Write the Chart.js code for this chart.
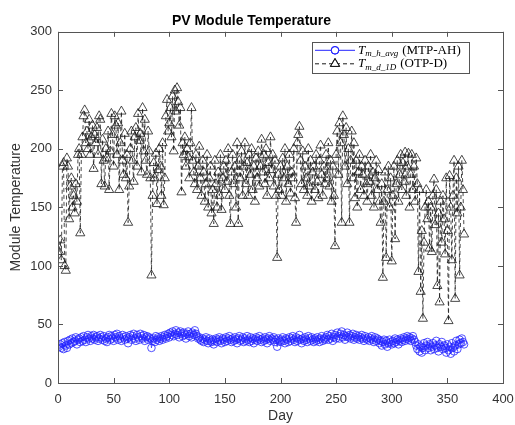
<!DOCTYPE html>
<html>
<head>
<meta charset="utf-8">
<script src="https://cdn.jsdelivr.net/npm/chart.js@4.4.1/dist/chart.umd.min.js"></script>
<style>
  html, body { margin: 0; padding: 0; background: #fff; }
  canvas { display: block; }
</style>
</head>
<body>
<canvas id="pvChart" width="515" height="425"></canvas>
<script>
// Data (one value per day)
const days = Array.from({ length: 365 }, (_, i) => i + 1);

// T_m_h_avg (MTP-AH)
const mtpAH = [
    31, 33, 30, 34, 29, 35, 32, 30, 36, 33,
    37, 34, 38, 35, 36, 39, 33, 37, 38, 35,
    39, 36, 40, 37, 35, 39, 41, 38, 36, 40,
    38, 41, 37, 39, 40, 36, 38, 41, 39, 37,
    40, 36, 38, 35, 39, 41, 37, 40, 38, 36,
    41, 39, 42, 37, 40, 38, 36, 41, 39, 37,
    40, 38, 34, 39, 41, 37, 40, 42, 38, 36,
    41, 39, 37, 42, 40, 38, 41, 36, 39, 40,
    37, 39, 38, 30, 36, 38, 35, 40, 37, 39,
    36, 38, 40, 37, 39, 41, 38, 40, 42, 39,
    43, 41, 44, 40, 42, 45, 41, 43, 39, 44,
    42, 40, 43, 41, 38, 42, 44, 40, 42, 39,
    43, 41, 45, 42, 40, 38, 39, 37, 36, 38,
    35, 37, 39, 36, 34, 38, 36, 35, 37, 33,
    36, 38, 35, 37, 39, 36, 34, 38, 37, 35,
    39, 36, 38, 40, 37, 35, 38, 36, 39, 37,
    34, 38, 40, 36, 37, 39, 35, 38, 36, 40,
    37, 35, 39, 36, 38, 34, 37, 39, 36, 38,
    40, 37, 35, 38, 36, 39, 37, 34, 38, 40,
    36, 38, 37, 39, 35, 37, 31, 38, 36, 35,
    37, 39, 36, 34, 38, 37, 35, 39, 36, 38,
    40, 37, 35, 39, 36, 38, 41, 37, 34, 38,
    36, 39, 37, 35, 40, 38, 36, 39, 37, 35,
    38, 36, 39, 37, 35, 38, 40, 36, 38, 37,
    39, 41, 37, 40, 38, 42, 36, 39, 41, 38,
    43, 40, 38, 42, 44, 39, 41, 37, 40, 43,
    39, 41, 38, 40, 42, 37, 39, 41, 38, 40,
    37, 39, 41, 38, 36, 40, 38, 37, 39, 36,
    38, 40, 37, 35, 39, 36, 38, 37, 34, 36,
    32, 35, 37, 33, 36, 31, 34, 37, 35, 33,
    36, 34, 38, 35, 37, 33, 36, 38, 35, 37,
    39, 36, 38, 40, 37, 39, 36, 38, 40, 37,
    35, 32, 29, 33, 27, 31, 26, 30, 34, 28,
    32, 35, 30, 33, 28, 31, 34, 29, 32, 36,
    30, 27, 33, 31, 35, 29, 32, 30, 26, 33,
    28, 31, 25, 34, 30, 27, 32, 36, 29, 33,
    37, 34, 38, 35, 33
];

// T_m_d_1D (OTP-D)
const otpD = [
    112, 122, 105, 185, 188, 100, 96, 192, 185, 140,
    168, 175, 150, 160, 145, 170, 155, 195, 200, 128,
    195, 210, 228, 233, 205, 215, 200, 225, 195, 210,
    220, 183, 212, 205, 218, 195, 228, 225, 170, 208,
    190, 168, 200, 192, 215, 165, 198, 230, 212, 185,
    228, 220, 195, 222, 165, 205, 232, 190, 178, 213,
    175, 195, 137, 168, 200, 215, 190, 172, 210, 218,
    185, 230, 207, 213, 180, 235, 198, 225, 190, 178,
    215, 198, 175, 92, 160, 188, 175, 196, 153, 182,
    200, 185, 160, 205, 152, 175, 228, 242, 215, 222,
    235, 210, 245, 198, 250, 232, 252, 240, 220, 235,
    163, 205, 195, 210, 185, 200, 193, 175, 205, 235,
    190, 180, 170, 195, 165, 185, 202, 175, 160, 190,
    180, 155, 170, 195, 150, 175, 185, 145, 165, 136,
    190, 170, 150, 180, 160, 195, 148, 175, 185, 165,
    190, 172, 200, 160, 136, 180, 195, 170, 185, 150,
    205, 136, 190, 175, 198, 160, 185, 205, 170, 188,
    160, 195, 178, 200, 165, 185, 155, 192, 175, 198,
    168, 185, 208, 180, 195, 170, 200, 160, 188, 175,
    210, 182, 195, 168, 190, 160, 107, 178, 165, 185,
    160, 192, 175, 200, 155, 185, 170, 195, 162, 180,
    175, 200, 158, 137, 205, 212, 219, 190, 170, 198,
    165, 185, 175, 160, 200, 168, 190, 155, 180, 185,
    165, 195, 172, 158, 190, 203, 178, 160, 185, 170,
    195, 175, 205, 168, 190, 155, 185, 160, 117, 195,
    215, 178, 222, 205, 137, 228, 212, 185, 218, 170,
    200, 137, 190, 215, 175, 205, 158, 190, 150, 180,
    195, 165, 185, 178, 160, 190, 170, 155, 185, 172,
    195, 160, 180, 150, 175, 190, 165, 182, 155, 137,
    170, 90, 155, 180, 107, 165, 185, 150, 175, 104,
    160, 185, 123, 170, 190, 155, 178, 195, 165, 188,
    172, 197, 160, 185, 196, 150, 178, 195, 165, 185,
    155, 192, 170, 95, 165, 78, 130, 55, 120, 150,
    165, 140, 155, 115, 150, 112, 160, 174, 135, 165,
    83, 145, 69, 155, 120, 160, 140, 110, 175, 130,
    53, 177, 150, 105, 160, 190, 72, 175, 145, 185,
    92, 150, 190, 165, 127
];

const xTicks = [0, 50, 100, 150, 200, 250, 300, 350, 400];
const yTicks = [0, 50, 100, 150, 200, 250, 300];

const legendItems = [
    { sub: 'm_h_avg', tag: '(MTP-AH)' },
    { sub: 'm_d_1D', tag: '(OTP-D)' }
];

const colors = {
    blue: '#2424ff',
    black: '#1a1a1a',
    axis: '#555555',
    text: '#333333'
};

const sansFont = "'Liberation Sans', Arial, Helvetica, sans-serif";
const serifFont = "'Liberation Serif', 'DejaVu Serif', serif";

// MATLAB style box with inward ticks on all four sides
const boxTicks = {
    id: 'boxTicks',
    afterDraw(chart) {
        const { ctx, chartArea: a, scales: { x, y } } = chart;
        ctx.save();
        ctx.strokeStyle = colors.axis;
        ctx.lineWidth = 1;
        ctx.strokeRect(Math.round(a.left) + 0.5, Math.round(a.top) + 0.5,
            Math.round(a.right - a.left), Math.round(a.bottom - a.top));
        ctx.beginPath();
        xTicks.forEach(v => {
            const px = Math.round(x.getPixelForValue(v)) + 0.5;
            ctx.moveTo(px, a.bottom); ctx.lineTo(px, a.bottom - 5);
            ctx.moveTo(px, a.top); ctx.lineTo(px, a.top + 5);
        });
        yTicks.forEach(v => {
            const py = Math.round(y.getPixelForValue(v)) + 0.5;
            ctx.moveTo(a.left, py); ctx.lineTo(a.left + 5, py);
            ctx.moveTo(a.right, py); ctx.lineTo(a.right - 5, py);
        });
        ctx.stroke();
        ctx.restore();
    }
};

// Legend with the TeX-like labels, placed inside the axes (northeast)
const mathLegend = {
    id: 'mathLegend',
    afterDraw(chart) {
        const { ctx, chartArea: a } = chart;
        const w = 157, h = 31;
        const bx = a.right - 34 - w, by = a.top + 10;
        ctx.save();
        ctx.fillStyle = '#fff';
        ctx.fillRect(bx, by, w, h);
        ctx.strokeStyle = colors.axis;
        ctx.lineWidth = 1;
        ctx.strokeRect(Math.round(bx) + 0.5, Math.round(by) + 0.5, w, h);

        chart.data.datasets.forEach((ds, i) => {
            const cy = by + 8.5 + i * 13.5;
            const x0 = bx + 3, x1 = bx + 43, cx = (x0 + x1) / 2;
            ctx.strokeStyle = ds.borderColor;
            ctx.lineWidth = 1;
            ctx.setLineDash(ds.borderDash || []);
            ctx.beginPath();
            ctx.moveTo(x0, cy); ctx.lineTo(x1, cy);
            ctx.stroke();
            ctx.setLineDash([]);
            ctx.fillStyle = '#fff';
            Chart.helpers.drawPoint(ctx, {
                pointStyle: ds.pointStyle, radius: ds.pointRadius,
                borderWidth: ds.pointBorderWidth, rotation: 0
            }, cx, cy);
            ctx.stroke();

            const item = legendItems[i];
            let tx = bx + 46;
            ctx.fillStyle = '#000';
            ctx.textBaseline = 'middle';
            ctx.font = `italic 13px ${serifFont}`;
            ctx.fillText('T', tx, cy);
            tx += ctx.measureText('T').width;
            ctx.font = `italic 9px ${serifFont}`;
            ctx.fillText(item.sub, tx, cy + 3.5);
            tx += ctx.measureText(item.sub).width + 4;
            ctx.font = `13px ${serifFont}`;
            ctx.fillText(item.tag, tx, cy);
        });
        ctx.restore();
    }
};

const ctx = document.getElementById('pvChart').getContext('2d');

new Chart(ctx, {
    type: 'line',
    data: {
        datasets: [
            {
                label: 'T_m_h_avg (MTP-AH)',
                data: mtpAH.map((v, i) => ({ x: days[i], y: v })),
                borderColor: colors.blue,
                borderWidth: 0.7,
                pointStyle: 'circle',
                pointRadius: 3.8,
                pointBorderWidth: 0.8,
                pointBorderColor: colors.blue,
                pointBackgroundColor: 'rgba(0,0,0,0)',
                tension: 0,
                fill: false
            },
            {
                label: 'T_m_d_1D (OTP-D)',
                data: otpD.map((v, i) => ({ x: days[i], y: v })),
                borderColor: colors.black,
                borderWidth: 0.8,
                borderDash: [4, 3],
                pointStyle: 'triangle',
                pointRadius: 5.3,
                pointBorderWidth: 0.8,
                pointBorderColor: colors.black,
                pointBackgroundColor: 'rgba(0,0,0,0)',
                tension: 0,
                fill: false
            }
        ]
    },
    options: {
        responsive: false,
        animation: false,
        devicePixelRatio: 1,
        layout: { padding: { left: 0, right: 12, top: 0, bottom: 0 } },
        plugins: {
            legend: { display: false },
            tooltip: { enabled: false },
            title: {
                display: true,
                text: 'PV Module Temperature',
                color: '#000',
                font: { family: sansFont, size: 14, weight: 'bold' },
                padding: { top: 13, bottom: 2 }
            }
        },
        scales: {
            x: {
                type: 'linear',
                min: 0,
                max: 400,
                afterBuildTicks: (s) => { s.ticks = xTicks.map(v => ({ value: v })); },
                afterFit: (s) => { s.height = 42; s.paddingLeft = 0; s.paddingRight = 0; },
                grid: { display: false, drawTicks: false },
                border: { display: false },
                ticks: { color: colors.text, font: { family: sansFont, size: 13 }, padding: 9, maxRotation: 0 },
                title: {
                    display: true,
                    text: 'Day',
                    color: colors.text,
                    font: { family: sansFont, size: 14 },
                    padding: { top: 0, bottom: 0 }
                }
            },
            y: {
                type: 'linear',
                min: 0,
                max: 300,
                afterBuildTicks: (s) => { s.ticks = yTicks.map(v => ({ value: v })); },
                afterFit: (s) => { s.width = 58; },
                grid: { display: false, drawTicks: false },
                border: { display: false },
                ticks: { color: colors.text, font: { family: sansFont, size: 13 }, padding: 6 },
                title: {
                    display: true,
                    text: 'Module Temperature',
                    color: colors.text,
                    font: { family: sansFont, size: 14 },
                    padding: { top: 8, bottom: 0 }
                }
            }
        }
    },
    plugins: [boxTicks, mathLegend]
});
</script>
</body>
</html>
